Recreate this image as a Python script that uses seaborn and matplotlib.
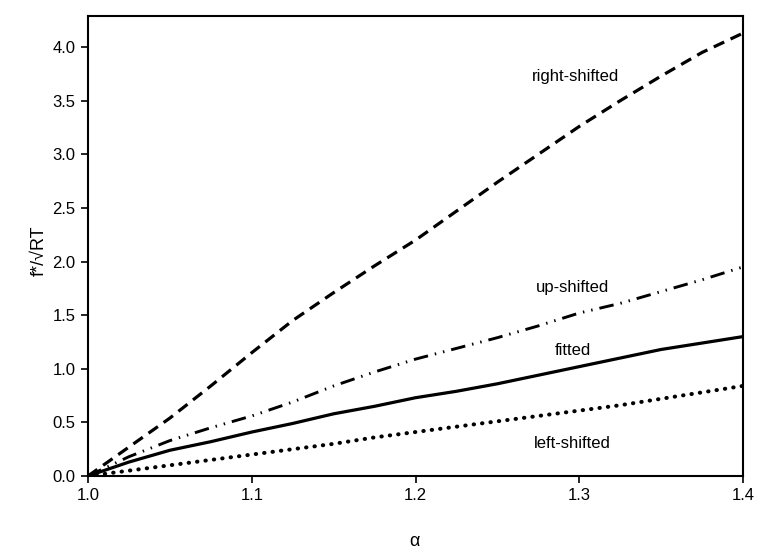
import numpy as np
import pandas as pd
import matplotlib
matplotlib.use("Agg")
import matplotlib.pyplot as plt
import seaborn as sns

# ---- data ----
alpha = [1.000, 1.025, 1.050, 1.075, 1.100, 1.125, 1.150, 1.175, 1.200,
         1.225, 1.250, 1.275, 1.300, 1.325, 1.350, 1.375, 1.400]
right_shifted = [0.00, 0.27, 0.54, 0.84, 1.15, 1.45, 1.71, 1.96, 2.20,
                 2.47, 2.74, 3.00, 3.26, 3.50, 3.73, 3.95, 4.13]
up_shifted = [0.00, 0.18, 0.33, 0.45, 0.56, 0.69, 0.84, 0.97, 1.09,
              1.19, 1.29, 1.40, 1.52, 1.61, 1.72, 1.83, 1.95]
fitted = [0.00, 0.13, 0.24, 0.32, 0.41, 0.49, 0.58, 0.65, 0.73,
          0.79, 0.86, 0.94, 1.02, 1.10, 1.18, 1.24, 1.30]
left_shifted = [0.00, 0.05, 0.10, 0.15, 0.20, 0.25, 0.30, 0.36, 0.41,
                0.46, 0.51, 0.56, 0.61, 0.66, 0.72, 0.78, 0.84]

curve_names = ["right-shifted", "up-shifted", "fitted", "left-shifted"]
label_x = [1.2975, 1.296, 1.296, 1.296]
label_y = [3.73, 1.76, 1.175, 0.30]

x_ticks = [1.0, 1.1, 1.2, 1.3, 1.4]
y_ticks = [0.0, 0.5, 1.0, 1.5, 2.0, 2.5, 3.0, 3.5, 4.0]

df = pd.DataFrame({
    "alpha": alpha * 4,
    "value": right_shifted + up_shifted + fitted + left_shifted,
    "curve": sum([[n] * len(alpha) for n in curve_names], []),
})

sns.set_theme(style="white")
plt.rcParams["font.family"] = ["Liberation Sans", "DejaVu Sans"]

fig = plt.figure(figsize=(7.58, 5.51), dpi=100)
ax = fig.add_axes([88 / 758, 1 - 476 / 551, (743 - 88) / 758, (476 - 16) / 551])

styles = {
    "right-shifted": dict(linestyle=(0, (3.6, 2.2)), linewidth=2.3),
    "up-shifted": dict(linestyle=(0, (5.0, 2.4, 0.5, 2.4, 0.5, 2.4)), linewidth=2.1),
    "fitted": dict(linestyle="-", linewidth=2.3),
    "left-shifted": dict(linestyle=(0, (0.1, 2.0)), linewidth=2.9,
                         dash_capstyle="round"),
}

for name in curve_names:
    sub = df[df["curve"] == name]
    sns.lineplot(data=sub, x="alpha", y="value", ax=ax, color="black",
                 legend=False, **styles[name])

for name, lx, ly in zip(curve_names, label_x, label_y):
    ax.text(lx, ly, name, ha="center", va="center", fontsize=12, color="black")

ax.set_xlim(1.0, 1.4)
ax.set_ylim(0.0, 4.29)
ax.set_xticks(x_ticks)
ax.set_xticklabels([f"{t:.1f}" for t in x_ticks])
ax.set_yticks(y_ticks)
ax.set_yticklabels([f"{t:.1f}" for t in y_ticks])
ax.tick_params(axis="both", direction="out", length=5, width=1.2,
               color="black", labelsize=12, labelcolor="black", pad=4,
               bottom=True, left=True)

for sp in ax.spines.values():
    sp.set_visible(True)
    sp.set_color("black")
    sp.set_linewidth(1.5)

ax.set_xlabel("α", fontsize=13, color="black")
ax.set_ylabel("f*/√RT", fontsize=13, color="black")
ax.xaxis.set_label_coords(0.499, -0.123)
ax.yaxis.set_label_coords(-0.062, 0.49)

fig.savefig("out.png", dpi=100, facecolor="white")
